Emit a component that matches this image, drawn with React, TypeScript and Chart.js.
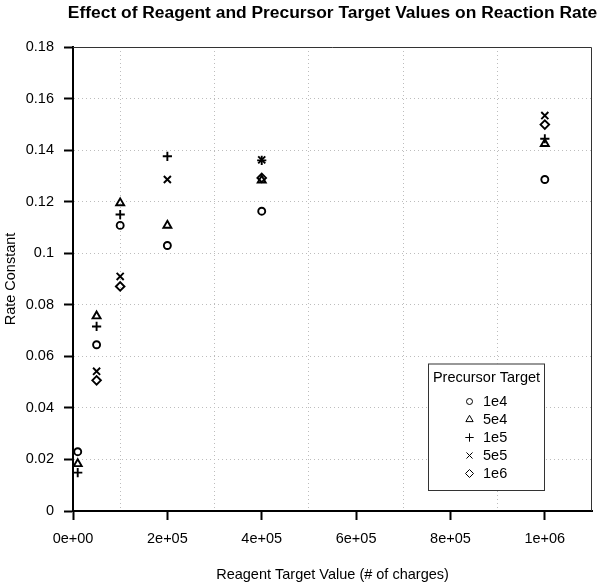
import React, { useEffect, useRef } from 'react';
import { Chart, registerables } from 'chart.js';
import { drawPoint } from 'chart.js/helpers';

Chart.register(...registerables);

// ---------- data ----------
const reagentTargets = [1e4, 5e4, 1e5, 2e5, 4e5, 1e6];
const precursorLabels = ['1e4', '5e4', '1e5', '5e5', '1e6'];
const rate1e4: (number | null)[] = [0.023, 0.0645, 0.1108, 0.103, 0.1163, 0.1286];
const rate5e4: (number | null)[] = [0.0183, 0.0756, 0.1195, 0.1108, 0.1283, 0.1425];
const rate1e5: (number | null)[] = [0.0149, 0.0716, 0.115, 0.1376, 0.136, 0.1444];
const rate5e5: (number | null)[] = [null, 0.0542, 0.091, 0.1286, 0.1362, 0.1534];
const rate1e6: (number | null)[] = [null, 0.0507, 0.0871, null, 0.1292, 0.1499];
const seriesValues = [rate1e4, rate5e4, rate1e5, rate5e5, rate1e6];

const xTickValues = [0, 2e5, 4e5, 6e5, 8e5, 1e6];
const xTickLabels = ['0e+00', '2e+05', '4e+05', '6e+05', '8e+05', '1e+06'];
const xGridValues = [1e5, 3e5, 5e5, 7e5, 9e5];
const yTickValues = [0, 0.02, 0.04, 0.06, 0.08, 0.1, 0.12, 0.14, 0.16, 0.18];
const yTickLabels = ['0', '0.02', '0.04', '0.06', '0.08', '0.1', '0.12', '0.14', '0.16', '0.18'];

const titleText = 'Effect of Reagent and Precursor Target Values on Reaction Rate';
const xTitle = 'Reagent Target Value (# of charges)';
const yTitle = 'Rate Constant';
const legendTitle = 'Precursor Target';

// ---------- style ----------
const FONT = '"Liberation Sans", Arial, Helvetica, sans-serif';
const pointStyles = ['circle', 'triangle', 'cross', 'crossRot', 'rectRot'];
const pointRadii = [3.5, 4.6, 4.6, 5, 4.3];
const legendRadii = [3, 4.2, 4.2, 4.3, 4];
const GRID_COLOR = '#bdbdbd';

const decorPlugin = {
  id: 'decor',
  afterDraw(chart: any) {
    const { ctx, chartArea } = chart;
    const { left, right, top, bottom } = chartArea;
    const cx = (left + right) / 2;
    ctx.save();
    // thin box on top & right
    ctx.strokeStyle = '#333';
    ctx.lineWidth = 1;
    ctx.beginPath();
    ctx.moveTo(left, top + 0.5);
    ctx.lineTo(right - 0.5, top + 0.5);
    ctx.lineTo(right - 0.5, bottom);
    ctx.stroke();

    ctx.fillStyle = '#000';
    // title
    ctx.font = `bold 17.4px ${FONT}`;
    ctx.textAlign = 'center';
    ctx.textBaseline = 'alphabetic';
    ctx.fillText(titleText, cx, 18);
    // x title
    ctx.textBaseline = 'middle';
    ctx.font = `14.5px ${FONT}`;
    ctx.fillText(xTitle, cx, 575);
    // y title
    ctx.save();
    ctx.translate(10.5, (top + bottom) / 2);
    ctx.rotate(-Math.PI / 2);
    ctx.fillText(yTitle, 0, 0);
    ctx.restore();

    // legend
    const bx = 428, by = 363.5, bw = 116, bh = 126.5;
    ctx.fillStyle = '#fff';
    ctx.fillRect(bx, by, bw, bh);
    ctx.strokeStyle = '#333';
    ctx.lineWidth = 1;
    ctx.strokeRect(bx + 0.5, by + 0.5, bw, bh);
    ctx.fillStyle = '#000';
    ctx.font = `14.5px ${FONT}`;
    ctx.textAlign = 'center';
    ctx.fillText(legendTitle, bx + bw / 2 + 0.5, by + 14.5);
    ctx.textAlign = 'left';
    chart.data.datasets.forEach((ds: any, i: number) => {
      const y = by + 38 + i * 18;
      ctx.strokeStyle = '#000';
      ctx.fillStyle = 'rgba(0,0,0,0)';
      drawPoint(ctx, { pointStyle: pointStyles[i], radius: legendRadii[i], borderWidth: 1, rotation: 0 } as any, 469.5, y);
      ctx.fillStyle = '#000';
      ctx.fillText(ds.label, 483, y);
    });
    ctx.restore();
  },
};

export default function App() {
  const ref = useRef<HTMLCanvasElement>(null);
  useEffect(() => {
    if (!ref.current) return;
    const datasets = seriesValues.map((vals, i) => ({
      label: precursorLabels[i],
      data: reagentTargets
        .map((x, j) => ({ x, y: vals[j] }))
        .filter((p) => p.y !== null),
      pointStyle: pointStyles[i],
      pointRadius: pointRadii[i],
      pointBorderWidth: 1.9,
      borderColor: '#000',
      backgroundColor: 'rgba(0,0,0,0)',
      showLine: false,
    }));
    const chart = new Chart(ref.current, {
      type: 'scatter',
      data: { datasets } as any,
      options: {
        animation: false,
        responsive: false,
        devicePixelRatio: 1,
        layout: { padding: { left: 0, top: 47, right: 10, bottom: 0 } },
        plugins: { legend: { display: false }, tooltip: { enabled: false }, title: { display: false } },
        scales: {
          x: {
            type: 'linear',
            min: 0,
            max: 1.1e6,
            afterBuildTicks: (scale: any) => {
              const vals = [...xTickValues, ...xGridValues].sort((a, b) => a - b);
              scale.ticks = vals.map((value) => ({ value }));
            },
            afterFit: (scale: any) => {
              scale.height = 77;
            },
            ticks: {
              autoSkip: false,
              maxRotation: 0,
              padding: 10,
              color: '#000',
              font: { family: FONT, size: 14.5 },
              callback: (v: any) => {
                const idx = xTickValues.indexOf(Number(v));
                return idx >= 0 ? xTickLabels[idx] : '';
              },
            },
            grid: {
              color: (c: any) => (xGridValues.includes(c.tick?.value) ? GRID_COLOR : 'rgba(0,0,0,0)'),
              lineWidth: 1,
              tickColor: (c: any) => (xTickValues.includes(c.tick?.value) ? '#000' : 'rgba(0,0,0,0)'),
              tickLength: 9,
              tickWidth: 2,
            },
            border: { display: true, color: '#000', width: 2, dash: [1, 3] },
          },
          y: {
            type: 'linear',
            min: 0,
            max: 0.18,
            afterBuildTicks: (scale: any) => {
              scale.ticks = yTickValues.map((value) => ({ value }));
            },
            afterFit: (scale: any) => {
              scale.width = 73;
            },
            ticks: {
              autoSkip: false,
              padding: 10,
              color: '#000',
              font: { family: FONT, size: 14.5 },
              callback: (v: any, i: number) => yTickLabels[i],
            },
            grid: {
              color: GRID_COLOR,
              lineWidth: 1,
              tickColor: '#000',
              tickLength: 9,
              tickWidth: 2,
            },
            border: { display: true, color: '#000', width: 2, dash: [1, 3] },
          },
        },
      },
      plugins: [decorPlugin],
    } as any);
    return () => chart.destroy();
  }, []);
  return (
    <div style={{ position: 'absolute', left: 0, top: 0, width: 602, height: 588, background: '#fff' }}>
      <canvas ref={ref} width={602} height={588} style={{ width: 602, height: 588, display: 'block' }} />
    </div>
  );
}
